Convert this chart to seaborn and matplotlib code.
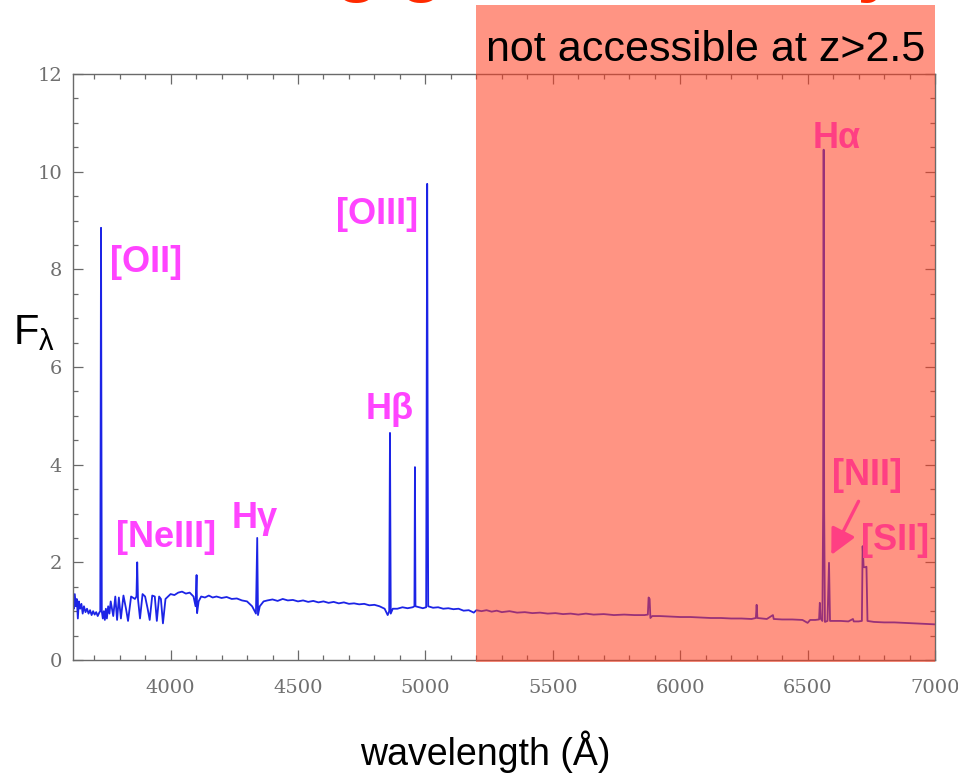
import matplotlib
matplotlib.use("Agg")
import matplotlib.pyplot as plt
import matplotlib.transforms as mtransforms
from matplotlib.patches import Rectangle
from matplotlib.ticker import MultipleLocator
import pandas as pd
import seaborn as sns

# Rest-frame galaxy spectrum: wavelength (Angstrom) and flux density
wavelength = [
    3617, 3620, 3624, 3628, 3632, 3636, 3640, 3645, 3650, 3655, 3660, 3666, 3672, 3678,
    3684, 3690, 3696, 3702, 3708, 3714, 3720, 3724, 3727, 3730, 3734, 3738, 3742, 3746,
    3750, 3755, 3760, 3765, 3775, 3783, 3790, 3797, 3805, 3815, 3825, 3833, 3845, 3860,
    3866, 3869, 3872, 3880, 3890, 3900, 3910, 3918, 3928, 3938, 3946, 3955, 3962, 3970,
    3980, 3990, 4000, 4015, 4030, 4045, 4060, 4075, 4090, 4098, 4102, 4104, 4110, 4120,
    4135, 4150, 4165, 4180, 4200, 4220, 4240, 4260, 4280, 4300, 4320, 4335, 4340, 4343,
    4350, 4365, 4380, 4400, 4420, 4440, 4460, 4480, 4500, 4520, 4540, 4560, 4580, 4600,
    4620, 4640, 4660, 4680, 4700, 4720, 4740, 4760, 4780, 4800, 4820, 4840, 4852, 4858,
    4861, 4864, 4872, 4890, 4910, 4930, 4950, 4957, 4959, 4961, 4975, 4990, 5003, 5007,
    5009, 5011, 5030, 5050, 5070, 5090, 5110, 5130, 5150, 5170, 5190, 5200, 5220, 5240,
    5260, 5280, 5300, 5330, 5360, 5390, 5420, 5450, 5480, 5510, 5540, 5570, 5600, 5630,
    5660, 5700, 5740, 5780, 5820, 5860, 5873, 5876, 5880, 5883, 5890, 5920, 5960, 6000,
    6040, 6080, 6120, 6160, 6200, 6240, 6280, 6297, 6300, 6303, 6320, 6340, 6364, 6367,
    6400, 6440, 6480, 6500, 6510, 6530, 6545, 6548, 6551, 6558, 6561, 6563, 6565, 6568,
    6578, 6584, 6588, 6600, 6630, 6660, 6678, 6681, 6700, 6713, 6716, 6720, 6728, 6731,
    6735, 6760, 6800, 6840, 6880, 6920, 6960, 7000,
]
flux = [
    1.30, 1.05, 1.35, 1.10, 1.25, 0.85, 1.20, 1.05, 1.15, 0.95, 1.10, 0.98, 1.05, 0.95,
    1.02, 0.92, 1.00, 0.93, 0.98, 0.90, 0.97, 1.00, 8.85, 1.00, 0.85, 1.00, 0.82, 1.05,
    0.85, 1.10, 0.95, 1.20, 0.90, 1.30, 0.82, 1.28, 0.85, 1.32, 1.05, 0.80, 1.30, 1.25,
    1.30, 2.00, 1.25, 0.85, 1.35, 1.30, 1.05, 0.82, 1.32, 1.30, 0.80, 1.30, 1.25, 0.75,
    1.25, 1.30, 1.35, 1.33, 1.38, 1.40, 1.36, 1.38, 1.30, 1.10, 1.74, 0.96, 1.20, 1.30,
    1.28, 1.32, 1.28, 1.30, 1.27, 1.29, 1.25, 1.26, 1.22, 1.20, 1.10, 0.95, 2.50, 0.92,
    1.10, 1.20, 1.22, 1.24, 1.21, 1.25, 1.22, 1.23, 1.20, 1.22, 1.19, 1.21, 1.18, 1.20,
    1.17, 1.19, 1.16, 1.18, 1.15, 1.16, 1.14, 1.15, 1.12, 1.13, 1.10, 1.05, 0.92, 1.00,
    4.65, 0.95, 1.05, 1.05, 1.08, 1.06, 1.08, 1.10, 3.95, 1.10, 1.08, 1.06, 1.08, 9.75,
    4.35, 1.10, 1.07, 1.08, 1.05, 1.06, 1.04, 1.05, 1.01, 1.02, 0.97, 1.02, 1.00, 1.02,
    0.99, 1.01, 0.98, 1.00, 0.97, 0.98, 0.96, 0.97, 0.95, 0.96, 0.94, 0.95, 0.93, 0.95,
    0.93, 0.94, 0.92, 0.93, 0.92, 0.92, 0.93, 1.28, 1.25, 0.86, 0.90, 0.90, 0.89, 0.88,
    0.88, 0.87, 0.86, 0.86, 0.85, 0.85, 0.84, 0.86, 1.13, 0.86, 0.85, 0.84, 0.92, 0.84,
    0.83, 0.83, 0.82, 0.76, 0.82, 0.82, 0.83, 1.17, 0.85, 0.80, 3.10, 10.45, 3.10, 0.78,
    0.80, 1.99, 0.80, 0.80, 0.80, 0.79, 0.84, 0.79, 0.79, 0.80, 2.33, 1.90, 1.90, 1.91,
    0.80, 0.78, 0.77, 0.77, 0.76, 0.75, 0.74, 0.73,
]

# Emission-line labels: text, wavelength, flux position
line_labels = ["[OII]", "[NeIII]", "H\u03b3", "H\u03b2", "[OIII]", "H\u03b1", "[NII]", "[SII]"]
label_wave = [3903, 3983, 4330, 4860, 4812, 6613, 6733, 6845]
label_flux = [8.15, 2.50, 2.90, 5.12, 9.12, 10.68, 3.78, 2.44]

# Wavelength range that is redshifted out of reach
blocked_range = [5200, 7000]

sns.set_theme(style="ticks")
plt.rcParams["font.family"] = ["Liberation Sans", "DejaVu Sans"]
plt.rcParams["mathtext.fontset"] = "custom"
plt.rcParams["mathtext.rm"] = "Liberation Sans"
plt.rcParams["mathtext.it"] = "Liberation Sans"
plt.rcParams["mathtext.default"] = "regular"

fig = plt.figure(figsize=(9.58, 7.75), dpi=100)
ax = fig.add_axes([73 / 958, 1 - 660 / 775, (935 - 73) / 958, (660 - 74) / 775])

spec = pd.DataFrame({"wavelength": wavelength, "flux": flux})
sns.lineplot(data=spec, x="wavelength", y="flux", sort=False, estimator=None,
             color="#1c24e6", linewidth=1.3, ax=ax)

ax.set_xlabel("")
ax.set_ylabel("")
ax.xaxis.set_minor_locator(MultipleLocator(100))
ax.yaxis.set_major_locator(MultipleLocator(2))
ax.yaxis.set_minor_locator(MultipleLocator(0.5))
ax.set_xticks([4000, 4500, 5000, 5500, 6000, 6500, 7000])
ax.set_xlim(3617, 7000)
ax.set_ylim(0, 12)

for side in ["left", "right", "top", "bottom"]:
    ax.spines[side].set_visible(True)
    ax.spines[side].set_color("#6a6a6a")
    ax.spines[side].set_linewidth(1.0)

ax.tick_params(axis="both", which="both", direction="in", top=True, right=True,
               color="#6a6a6a", labelcolor="#6f6f6f", width=0.9)
ax.tick_params(axis="both", which="major", length=7, labelsize=14)
ax.tick_params(axis="both", which="minor", length=3.5)
ax.tick_params(axis="x", which="major", pad=14)
ax.tick_params(axis="y", which="major", pad=8)
for lab in ax.get_xticklabels() + ax.get_yticklabels():
    lab.set_fontfamily("DejaVu Serif")

# Emission line annotations
for txt, xw, yf in zip(line_labels, label_wave, label_flux):
    ax.text(xw, yf, txt, color="#ff44ff", fontsize=26, fontweight="bold",
            ha="center", va="center")
ax.annotate("", xy=(6593, 2.15), xytext=(6700, 3.25),
            arrowprops=dict(arrowstyle="-|>,head_length=1.3,head_width=0.65",
                            color="#ff44ff", lw=2.4, shrinkA=0, shrinkB=0))

# Axis titles
fig.text(34 / 958, 1 - 333 / 775, r"F$_{\lambda}$", fontsize=30, color="black",
         ha="center", va="center")
fig.text(485 / 958, 1 - 752 / 775, "wavelength (\u00c5)", fontsize=27, color="black",
         ha="center", va="center")

# Heading above the panel, largely outside the canvas
fig.text(458 / 958, 1 + 12 / 775, "Measuring gas metallicity", fontsize=52,
         fontweight="bold", color="#ff2a00", ha="center", va="baseline")

# Shaded band over the inaccessible wavelengths
band_tf = mtransforms.blended_transform_factory(ax.transData, fig.transFigure)
band = Rectangle((blocked_range[0], 1 - 662 / 775), blocked_range[1] - blocked_range[0],
                 (662 - 5) / 775, transform=band_tf, facecolor="#ff3c1e", alpha=0.55,
                 edgecolor="none", zorder=5, clip_on=False)
fig.add_artist(band)
fig.text(706 / 958, 1 - 50 / 775, "not accessible at z>2.5", fontsize=31,
         color="black", ha="center", va="center", zorder=6)

fig.savefig("out.png", dpi=100)
